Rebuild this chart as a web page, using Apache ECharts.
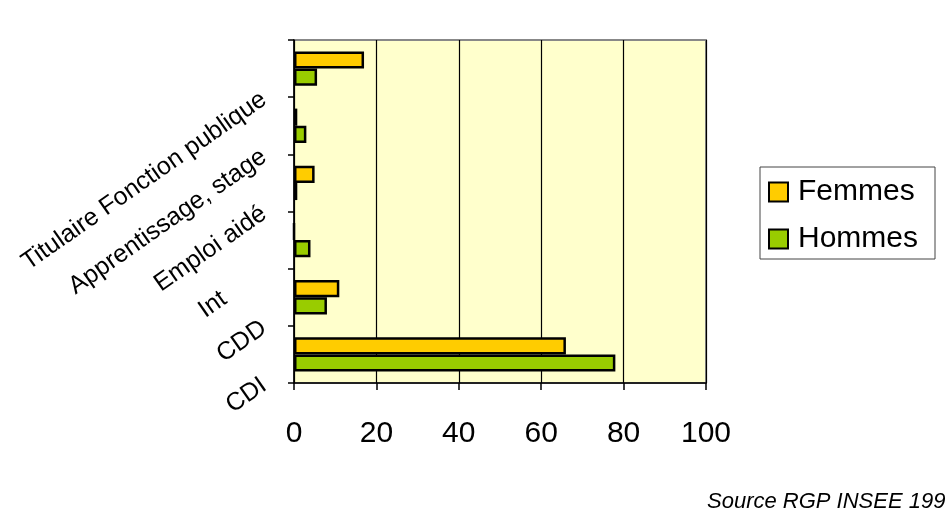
<!DOCTYPE html>
<html>
<head>
<meta charset="utf-8">
<style>
  html, body { margin: 0; padding: 0; background: #ffffff; }
  #chart { width: 946px; height: 516px; }
</style>
<script src="https://cdn.jsdelivr.net/npm/echarts@6/dist/echarts.min.js"></script>
</head>
<body>
<div id="chart"></div>
<script>
// Type de contrat, part en % (du bas vers le haut)
var categories = ['CDI', 'CDD', 'Intérim', 'Emploi aidé', 'Apprentissage, stage', 'Titulaire Fonction publique'];
var femmes = [66, 11, 0, 5, 0.8, 17];
var hommes = [78, 8, 4, 0.8, 3, 5.6];
var xTicks = { min: 0, max: 100, interval: 20 };
var sourceText = 'Source RGP INSEE 1999';

var font = 'Arial, "Liberation Sans", sans-serif';

var chart = echarts.init(document.getElementById('chart'), null, { renderer: 'canvas' });

chart.setOption({
  animation: false,
  backgroundColor: '#ffffff',
  grid: {
    left: 294, right: 240, top: 40, bottom: 133,
    show: true,
    backgroundColor: '#FFFFCC',
    borderColor: '#888888',
    borderWidth: 2
  },
  legend: {
    orient: 'vertical',
    left: 760, top: 167,
    padding: [10, 17, 5, 8],
    itemGap: 17,
    itemWidth: 19,
    itemHeight: 19,
    icon: 'rect',
    borderColor: '#444444',
    borderWidth: 1,
    textStyle: { fontFamily: font, fontSize: 30, color: '#000000', lineHeight: 26, padding: [0, 0, 0, 5] },
    itemStyle: { borderColor: '#000000', borderWidth: 2 },
    data: ['Femmes', 'Hommes']
  },
  xAxis: {
    type: 'value',
    min: xTicks.min, max: xTicks.max, interval: xTicks.interval,
    axisLine: { show: true, lineStyle: { color: '#000000', width: 1.5 } },
    axisTick: { show: true, length: 7, lineStyle: { color: '#000000', width: 1.5 } },
    splitLine: { show: true, lineStyle: { color: '#000000', width: 1.2 } },
    axisLabel: { fontFamily: font, fontSize: 30, color: '#000000', margin: 36 }
  },
  yAxis: [
    {
      type: 'category',
      data: categories,
      axisLine: { show: true, onZero: false, lineStyle: { color: '#000000', width: 1.5 } },
      axisTick: { show: true, length: 6, lineStyle: { color: '#000000', width: 1.5 } },
      axisLabel: { show: false }
    },
    {
      // labels placed on the band boundaries, rotated
      type: 'category',
      position: 'left',
      boundaryGap: false,
      data: categories.concat(['']),
      axisLine: { show: false },
      axisTick: { show: false },
      splitLine: { show: false },
      axisLabel: {
        interval: 0,
        rotate: 35,
        margin: 30,
        fontFamily: font,
        fontSize: 25,
        color: '#000000',
        formatter: function (v) {
          if (v === 'Intérim') return '{v|Int}{h|érim}';
          return v;
        },
        rich: {
          v: { fontFamily: font, fontSize: 25, color: '#000000' },
          h: { fontFamily: font, fontSize: 25, color: 'rgba(0,0,0,0)' }
        }
      }
    }
  ],
  series: [
    {
      name: 'Femmes',
      type: 'bar',
      yAxisIndex: 0,
      data: femmes,
      barGap: '0%',
      barCategoryGap: '40%',
      itemStyle: { color: '#FFCC00', borderColor: '#000000', borderWidth: 2.5 }
    },
    {
      name: 'Hommes',
      type: 'bar',
      yAxisIndex: 0,
      data: hommes,
      barGap: '0%',
      barCategoryGap: '40%',
      itemStyle: { color: '#99CC00', borderColor: '#000000', borderWidth: 2.5 }
    }
  ],
  graphic: [
    {
      type: 'text',
      left: 707,
      top: 491,
      style: {
        text: sourceText,
        fontFamily: font,
        fontStyle: 'italic',
        fontSize: 22,
        fill: '#000000'
      }
    }
  ]
});
</script>
</body>
</html>
